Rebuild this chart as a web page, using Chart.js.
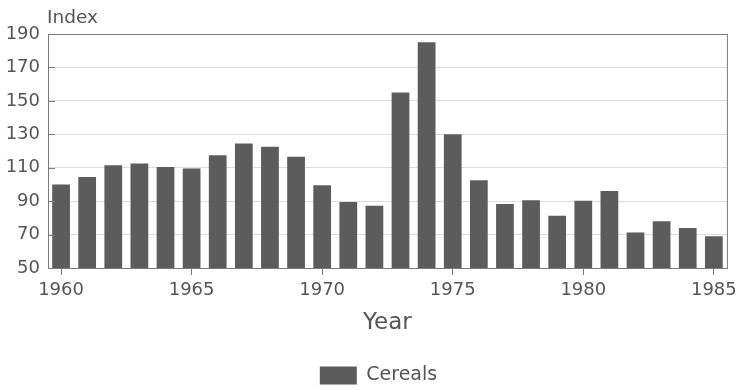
<!DOCTYPE html>
<html>
<head>
<meta charset="utf-8">
<script src="https://cdn.jsdelivr.net/npm/chart.js@4.4.0/dist/chart.umd.min.js"></script>
<style>
  html, body { margin: 0; padding: 0; background: #fff; }
  #wrap { width: 742px; height: 389px; }
</style>
</head>
<body>
<div id="wrap"><canvas id="cereals"></canvas></div>
<script>
const years = ['1960', '1961', '1962', '1963', '1964', '1965', '1966', '1967', '1968', '1969',
    '1970', '1971', '1972', '1973', '1974', '1975', '1976', '1977', '1978', '1979',
    '1980', '1981', '1982', '1983', '1984', '1985']
const cerealIndex = [100, 104.5, 111.5, 112.5, 110.5, 109.5, 117.5, 124.5, 122.5, 116.5,
    99.5, 89.5, 87.2, 155, 185, 130, 102.5, 88.3, 90.5, 81.3,
    90.3, 96, 71.3, 78, 74, 69]
const yTicks = [50, 70, 90, 110, 130, 150, 170, 190]

const ink = '#555'
const frame = '#7a7a7a'
const family = '"DejaVu Sans", sans-serif'

// cadre complet + petits traits de graduation vers l'intérieur sur l'axe Y
const framePlugin = {
    id: 'framePlugin',
    afterLayout(chart) {
        // décale la légende un peu vers la droite et vers le bas
        if (chart.legend) {
            chart.legend.left += 14
            chart.legend.right += 14
            chart.legend.top += 6
            chart.legend.bottom += 6
        }
    },
    afterDraw(chart) {
        const { ctx, chartArea, scales } = chart
        ctx.save()
        ctx.strokeStyle = frame
        ctx.lineWidth = 1
        ctx.strokeRect(chartArea.left + 0.5, chartArea.top + 0.5,
            chartArea.right - chartArea.left, chartArea.bottom - chartArea.top)
        ctx.beginPath()
        yTicks.forEach((v) => {
            const y = Math.round(scales.y.getPixelForValue(v)) + 0.5
            ctx.moveTo(chartArea.left, y)
            ctx.lineTo(chartArea.left + 7, y)
        })
        ctx.stroke()
        // titre de l'axe vertical, posé au-dessus des graduations
        ctx.fillStyle = ink
        ctx.font = '18.5px ' + family
        ctx.textBaseline = 'alphabetic'
        ctx.fillText('Index', chartArea.left - 1, chartArea.top - 11)
        ctx.restore()
    }
}

const ctx = document.getElementById('cereals')
new Chart(ctx, {
    type: 'bar',
    data: {
        labels: years,
        datasets: [
            {
                label: 'Cereals',
                data: cerealIndex,
                backgroundColor: '#5c5c5c',
                borderWidth: 0,
                categoryPercentage: 1,
                barPercentage: 0.68
            }
        ]
    },
    options: {
        responsive: true,
        maintainAspectRatio: false,
        animation: false,
        layout: { padding: { left: 0, right: 13, top: 34, bottom: 0 } },
        plugins: {
            tooltip: { enabled: false },
            legend: {
                position: 'bottom',
                labels: {
                    color: ink,
                    font: { family, size: 19 },
                    boxWidth: 37,
                    boxHeight: 18,
                    padding: 4
                }
            }
        },
        scales: {
            x: {
                afterFit(scale) { scale.height = 88 },
                grid: {
                    offset: false,
                    drawOnChartArea: false,
                    tickLength: 7,
                    tickColor: (c) => (c.index % 5 === 0 ? frame : 'rgba(0,0,0,0)')
                },
                border: { color: frame },
                ticks: {
                    autoSkip: false,
                    maxRotation: 0,
                    color: ink,
                    font: { family, size: 18 },
                    padding: 5,
                    callback: (v, i) => (i % 5 === 0 ? years[i] : '')
                },
                title: {
                    display: true,
                    text: 'Year',
                    color: ink,
                    font: { family, size: 23 },
                    padding: { top: 6, bottom: 19 }
                }
            },
            y: {
                min: 50,
                max: 190,
                afterFit(scale) { scale.width = 48 },
                afterBuildTicks(scale) { scale.ticks = yTicks.map((v) => ({ value: v })) },
                grid: {
                    drawTicks: false,
                    color: (c) => (c.tick.value === 50 || c.tick.value === 190 ? 'rgba(0,0,0,0)' : '#dcdcdc'),
                    lineWidth: 1,
                    borderDash: [2, 3]
                },
                border: { color: frame },
                ticks: {
                    color: ink,
                    font: { family, size: 18 },
                    padding: 8
                }
            }
        }
    },
    plugins: [framePlugin]
})
</script>
</body>
</html>
